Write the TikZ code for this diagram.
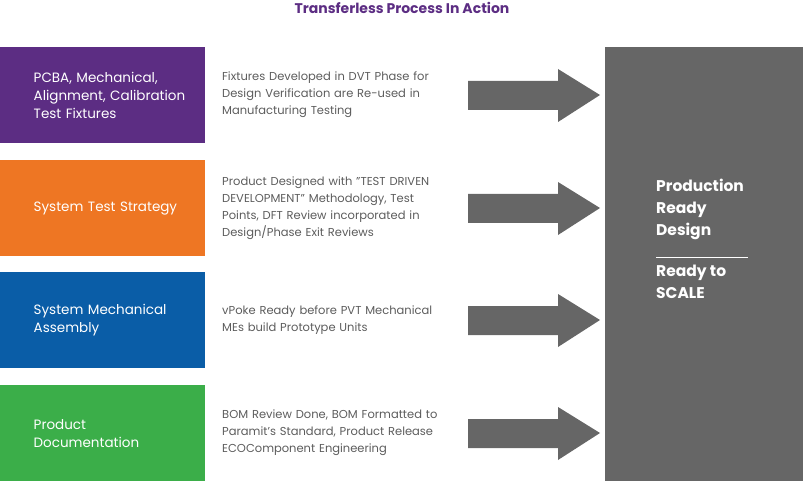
\documentclass[tikz,border=0pt]{standalone}
\usepackage{fontspec}
\setmainfont{Poppins}
\usetikzlibrary{positioning}
\definecolor{tpurple}{HTML}{5C2D83}
\definecolor{torange}{HTML}{EE7623}
\definecolor{tblue}{HTML}{0A5DA7}
\definecolor{tgreen}{HTML}{3BAE49}
\definecolor{tgray}{HTML}{666666}
\tikzset{
  stage/.style={fill=#1,text=white,minimum width=205pt,minimum height=96pt,
    text width=180pt,align=left,inner sep=0pt,anchor=north west,
    font=\fontsize{13.5}{18}\selectfont},
  desc/.style={text=tgray!90!black,text width=250pt,align=left,inner sep=0pt,anchor=west,
    font=\fontsize{11.5}{17}\selectfont},
  bigarrow/.style={fill=tgray}
}
\begin{document}
\begin{tikzpicture}[x=1pt,y=-1pt]
\useasboundingbox (0,0) rectangle (803,481);
\node[text=tpurple,font=\bfseries\fontsize{14}{16}\selectfont] (title) at (402,8) {Transferless Process In Action};
\fill[tgray] (605,47) rectangle (803,481);
\node[text=white,font=\bfseries\fontsize{15.5}{22}\selectfont,align=left,anchor=north west,inner sep=0pt] (prod) at (656,179) {Production\\Ready\\Design};
\draw[white,line width=0.8pt] (656,257) -- (748,257);
\node[text=white,font=\bfseries\fontsize{15.5}{22}\selectfont,align=left,anchor=north west,inner sep=0pt] (scale) at (656,265) {Ready to\\SCALE};
\foreach \y/\col/\name/\txt/\dsc in {
  47/tpurple/pcba/{PCBA, Mechanical,\\Alignment, Calibration\\Test Fixtures}/{Fixtures Developed in DVT Phase for\\Design Verification are Re-used in\\Manufacturing Testing},
  160/torange/sts/{System Test Strategy}/{Product Designed with "TEST DRIVEN\\DEVELOPMENT" Methodology, Test\\Points, DFT Review incorporated in\\Design/Phase Exit Reviews},
  272/tblue/sma/{System Mechanical\\Assembly}/{vPoke Ready before PVT Mechanical\\MEs build Prototype Units},
  385/tgreen/doc/{Product\\Documentation}/{BOM Review Done, BOM Formatted to\\Paramit's Standard, Product Release\\ECOComponent Engineering}}{
  \node[stage=\col] (\name) at (0,\y) {\hspace*{21pt}\parbox{180pt}{\txt}};
  \node[desc] (\name-d) at (222,\y+48) {\dsc};
  \fill[tgray] (468,\y+34) -- (558,\y+34) -- (558,\y+22) -- (600,\y+48)
    -- (558,\y+75) -- (558,\y+63) -- (468,\y+63) -- cycle;
}
\end{tikzpicture}
\end{document}
